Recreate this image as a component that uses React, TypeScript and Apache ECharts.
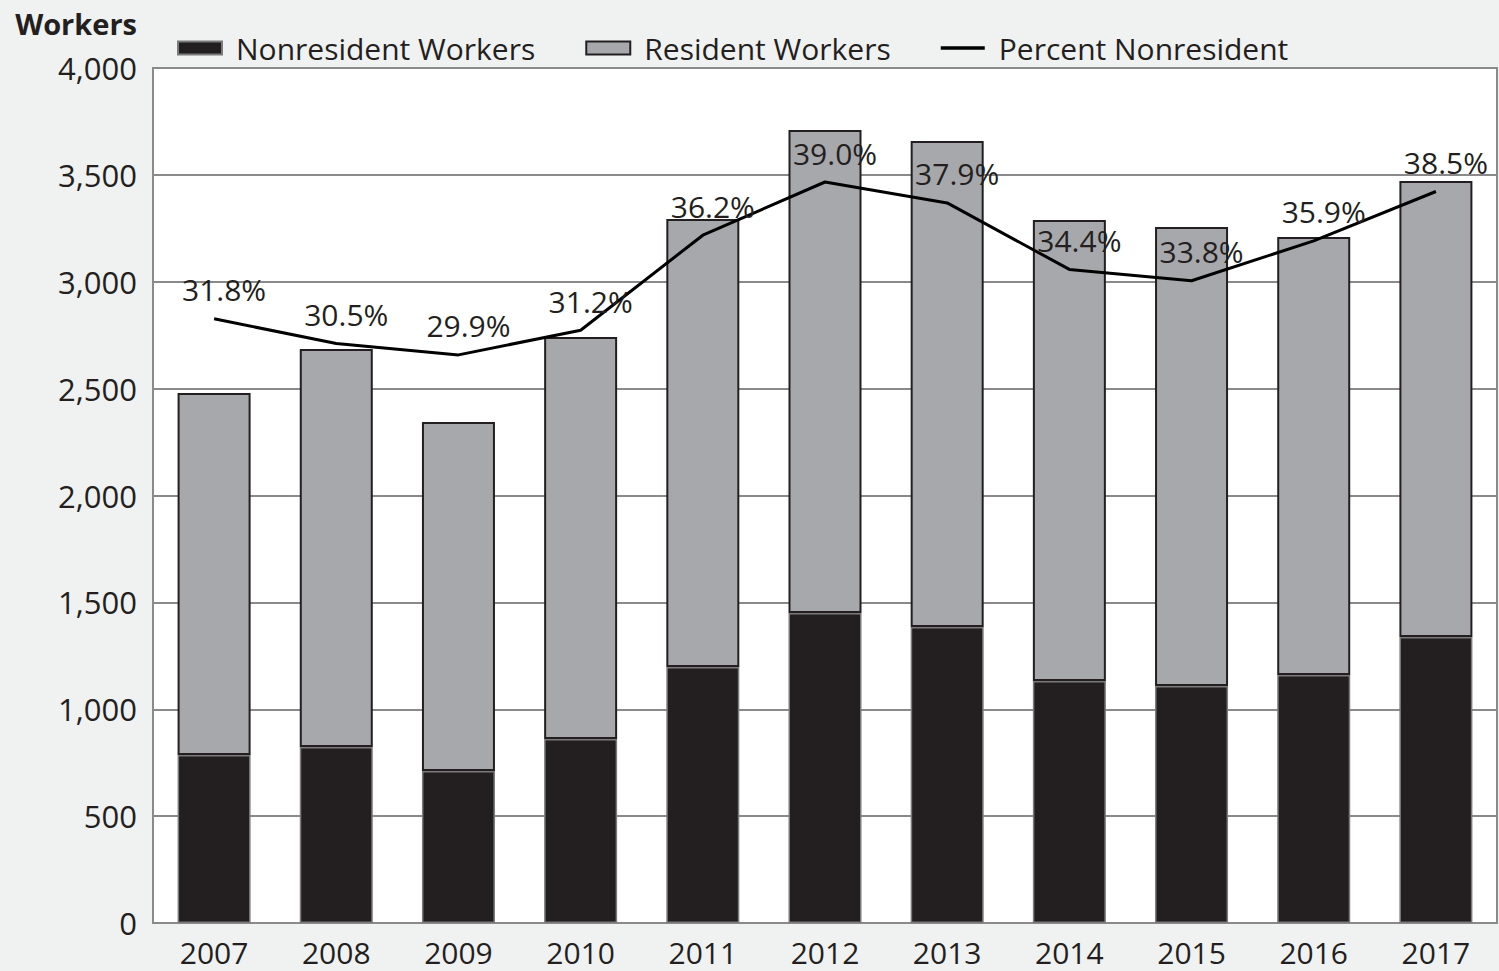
import React, { useEffect, useRef } from "react";
import * as echarts from "echarts";

const years = ["2007", "2008", "2009", "2010", "2011", "2012", "2013", "2014", "2015", "2016", "2017"];
const nonresident = [786, 823, 711, 861, 1198, 1450, 1385, 1132, 1109, 1160, 1338];
const resident = [1694, 1862, 1633, 1881, 2096, 2260, 2274, 2157, 2147, 2049, 2133];
const percentNonresident = [31.8, 30.5, 29.9, 31.2, 36.2, 39.0, 37.9, 34.4, 33.8, 35.9, 38.5];

const FONT = "'Open Sans', 'Liberation Sans', sans-serif";
const LINE_ICON = "path://M0 0H48V0.01H0ZM0 5H48V9H0ZM0 13.99H48V14H0Z";

export default function App() {
  const ref = useRef<HTMLDivElement>(null);
  useEffect(() => {
    document.body.style.margin = "0";
    const chart = echarts.init(ref.current!, null, { renderer: "svg" });
    chart.setOption({
      animation: false,
      backgroundColor: "#f0f1f1",
      textStyle: { fontFamily: FONT, color: "#231f20" },
      legend: {
        left: 177,
        top: 33,
        padding: 0,
        itemWidth: 44,
        itemHeight: 13,
        itemGap: 50,
        textStyle: { fontSize: 30, color: "#231f20", fontFamily: FONT, padding: [0, 0, 0, 9] },
        data: [
          { name: "Nonresident Workers", icon: "rect" },
          { name: "Resident Workers", icon: "rect" },
          { name: "Percent Nonresident", icon: LINE_ICON, itemStyle: { color: "#000000", borderWidth: 0 } },
        ],
      },
      grid: {
        left: 153,
        right: 2,
        top: 68,
        bottom: 48,
        show: true,
        backgroundColor: "#ffffff",
        borderColor: "#8a8a8a",
        borderWidth: 2,
      },
      xAxis: {
        type: "category",
        data: years,
        axisLine: { lineStyle: { color: "#8a8a8a", width: 2 } },
        axisTick: { show: false },
        axisLabel: { fontSize: 30, color: "#231f20", margin: 14, fontFamily: FONT },
      },
      yAxis: [
        {
          type: "value",
          min: 0,
          max: 4000,
          interval: 500,
          name: "Workers",
          nameLocation: "end",
          nameGap: 45,
          nameTextStyle: {
            fontSize: 29,
            fontWeight: "bold",
            color: "#231f20",
            align: "right",
            verticalAlign: "middle",
            padding: [0, 16, 0, 0],
            fontFamily: FONT,
          },
          axisLine: { show: true, lineStyle: { color: "#8a8a8a", width: 2 } },
          axisTick: { show: false },
          axisLabel: {
            fontSize: 31,
            color: "#231f20",
            margin: 16,
            fontFamily: FONT,
            formatter: (v: number) => v.toLocaleString("en-US"),
          },
          splitLine: { lineStyle: { color: "#8a8a8a", width: 2 } },
        },
        {
          type: "value",
          min: 0,
          max: 45,
          show: false,
          splitLine: { show: false },
        },
      ],
      series: [
        {
          name: "Nonresident Workers",
          type: "bar",
          stack: "w",
          data: nonresident,
          barWidth: 73,
          itemStyle: { color: "#231f20", borderColor: "#7a7a7a", borderWidth: 1.5 },
        },
        {
          name: "Resident Workers",
          type: "bar",
          stack: "w",
          data: resident,
          barWidth: 73,
          itemStyle: { color: "#a7a8ab", borderColor: "#231f20", borderWidth: 2 },
        },
        {
          name: "Percent Nonresident",
          type: "line",
          yAxisIndex: 1,
          data: percentNonresident,
          symbol: "none",
          lineStyle: { color: "#000000", width: 3 },
          itemStyle: { color: "#000000" },
          z: 5,
        },
        {
          name: "Percent Labels",
          type: "scatter",
          yAxisIndex: 1,
          data: percentNonresident,
          symbolSize: 0,
          itemStyle: { color: "rgba(0,0,0,0)", opacity: 1 },
          silent: true,
          z: 6,
          label: {
            show: true,
            position: "top",
            distance: 14,
            offset: [10, 0],
            fontSize: 30,
            color: "#231f20",
            opacity: 1,
            fontFamily: FONT,
            formatter: (p: any) => Number(p.value).toFixed(1) + "%",
          },
        },
      ],
    });
    return () => chart.dispose();
  }, []);
  return <div ref={ref} style={{ width: 1499, height: 971 }} />;
}
